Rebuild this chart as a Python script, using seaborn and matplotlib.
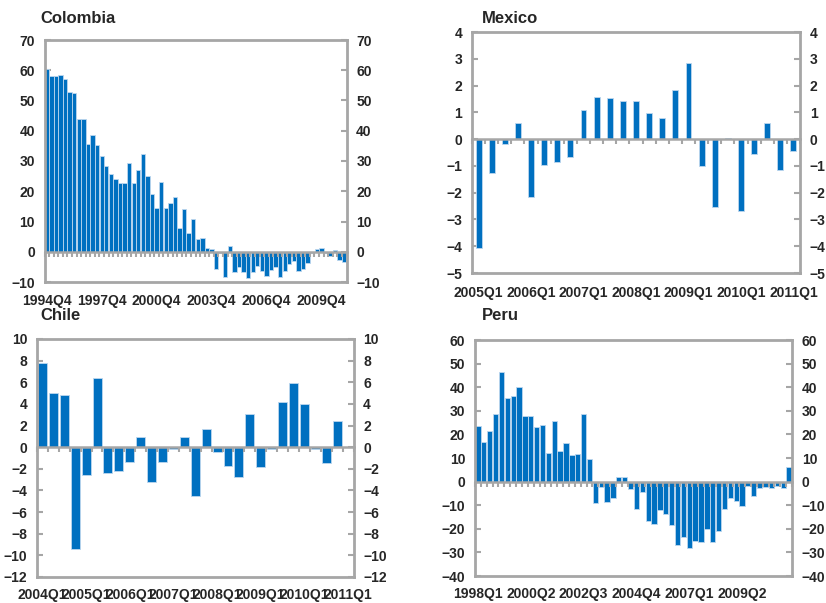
import numpy as np
import pandas as pd
import matplotlib
matplotlib.use("Agg")
import matplotlib.pyplot as plt
import seaborn as sns

sns.set_style("white")
plt.rcParams["font.family"] = ["Liberation Sans", "DejaVu Sans"]
plt.rcParams["font.weight"] = "bold"

BLUE = "#0070C0"
EDGE = "#BDD7EE"
GRAY = "#A6A6A6"


def quarters(start, end):
    return [f"{p.year}Q{p.quarter}" for p in pd.period_range(start, end, freq="Q")]


# ---- data -------------------------------------------------------------
colombia_quarters = quarters("1994Q4", "2011Q1")
colombia_values = [
    60.3, 58.0, 58.0, 58.3, 57.1, 52.9, 52.5, 44.0, 44.0, 35.7,
    38.5, 35.3, 31.6, 28.4, 25.8, 23.9, 22.6, 22.6, 29.4, 22.6,
    27.1, 32.2, 25.2, 19.0, 14.4, 23.0, 14.4, 16.2, 18.1, 7.7,
    14.0, 6.3, 10.9, 4.2, 4.5, 1.4, 0.9, -5.7, -0.3, -8.2,
    1.8, -6.6, -4.9, -6.8, -8.6, -6.6, -4.6, -6.3, -8.0, -6.0,
    -4.9, -8.5, -6.3, -4.1, -3.2, -6.3, -5.7, -3.8, -0.3, 0.9,
    1.2, -0.5, -1.3, 0.7, -2.8, -3.3,
]

mexico_quarters = quarters("2005Q1", "2011Q1")
mexico_values = [
    -4.05, -1.25, -0.18, 0.62, -2.17, -0.97, -0.85, -0.65, 1.07, 1.57,
    1.52, 1.43, 1.42, 0.97, 0.78, 1.82, 2.85, -1.02, -2.55, 0.05,
    -2.70, -0.55, 0.62, -1.17, -0.45,
]

chile_quarters = quarters("2004Q1", "2011Q1")
chile_values = [
    7.8, 5.0, 4.85, -9.4, -2.6, 6.35, -2.35, -2.2, -1.35, 0.9,
    -3.25, -1.35, -0.15, 0.9, -4.5, 1.7, -0.45, -1.75, -2.75, 3.05,
    -1.85, -0.2, 4.2, 5.95, 3.95, -0.15, -1.5, 2.45, np.nan,
]

peru_quarters = quarters("1998Q1", "2011Q2")
peru_values = [
    23.4, 16.9, 21.6, 28.5, 46.5, 35.4, 36.1, 40.0, 27.9, 27.9,
    23.2, 24.0, 12.3, 25.8, 12.8, 16.4, 11.1, 11.7, 28.5, 9.5,
    -9.0, -2.5, -8.5, -6.8, 2.1, 2.1, -3.0, -11.5, -4.6, -16.5,
    -17.8, -12.2, -13.7, -18.3, -26.8, -23.5, -28.0, -25.3, -25.8, -20.0,
    -25.8, -21.1, -11.5, -6.9, -8.2, -10.4, -1.8, -6.2, -2.9, -2.1,
    -2.8, -1.8, -2.9, 6.2,
]

# ---- layout -----------------------------------------------------------
W, H = 826, 603
fig = plt.figure(figsize=(W / 100, H / 100), dpi=100)


def px_axes(left, top, right, bottom):
    return fig.add_axes([left / W, 1 - bottom / H, (right - left) / W, (bottom - top) / H])


def panel(ax, title, title_xy, cats, vals, ylim, step, label_every, bar_width, xpad):
    n = len(cats)
    df = pd.DataFrame({"quarter": cats, "value": vals})
    sns.barplot(data=df, x="quarter", y="value", order=cats, color=BLUE,
                saturation=1, width=bar_width, edgecolor=EDGE, linewidth=0.6,
                errorbar=None, ax=ax)
    ax.set_xlim(-0.5, n - 0.5)
    ax.set_ylim(*ylim)
    ax.set_yticks(np.arange(ylim[0], ylim[1] + step / 2, step))
    ax.set_xticks(range(0, n, label_every))
    ax.set_xticklabels(cats[::label_every])
    ax.set_xlabel("")
    ax.set_ylabel("")
    ax.tick_params(axis="x", length=0, pad=xpad, labelsize=10)
    ax.tick_params(axis="y", direction="in", length=4, width=1.5, color=GRAY,
                   left=True, right=True, labelleft=True, labelright=True,
                   pad=7, labelsize=10)
    for lab in ax.get_xticklabels() + ax.get_yticklabels():
        lab.set_fontweight("bold")
    for s in ax.spines.values():
        s.set_visible(True)
        s.set_color(GRAY)
        s.set_linewidth(2.0)

    # category axis crossing at zero, with boundary ticks
    zx = ax.twiny()
    zx.set_xlim(ax.get_xlim())
    zx.spines["bottom"].set_position(("data", 0))
    for side in ("top", "left", "right"):
        zx.spines[side].set_visible(False)
    zx.spines["bottom"].set_color(GRAY)
    zx.spines["bottom"].set_linewidth(1.8)
    zx.xaxis.set_ticks_position("bottom")
    zx.set_xticks(np.arange(n + 1) - 0.5)
    zx.tick_params(axis="x", direction="out", length=3.5, width=1.5, color=GRAY,
                   labelbottom=False, labeltop=False)

    fig.text(title_xy[0] / W, 1 - title_xy[1] / H, title, fontsize=12,
             fontweight="bold", ha="left", va="baseline")


ax1 = px_axes(44.5, 40, 346.5, 282)
panel(ax1, "Colombia", (40, 23), colombia_quarters, colombia_values,
      (-10, 70), 10, 12, 0.96, 9)

ax2 = px_axes(472, 32, 800, 273)
panel(ax2, "Mexico", (482, 23), mexico_quarters, mexico_values,
      (-5, 4), 1, 4, 0.45, 9)

ax3 = px_axes(37, 339, 353.5, 577)
panel(ax3, "Chile", (40, 320), chile_quarters, chile_values,
      (-12, 10), 2, 4, 0.82, 8)

ax4 = px_axes(475, 340, 792, 576)
panel(ax4, "Peru", (482, 320), peru_quarters, peru_values,
      (-40, 60), 10, 9, 0.9, 8)

fig.savefig("out.png", dpi=100)
